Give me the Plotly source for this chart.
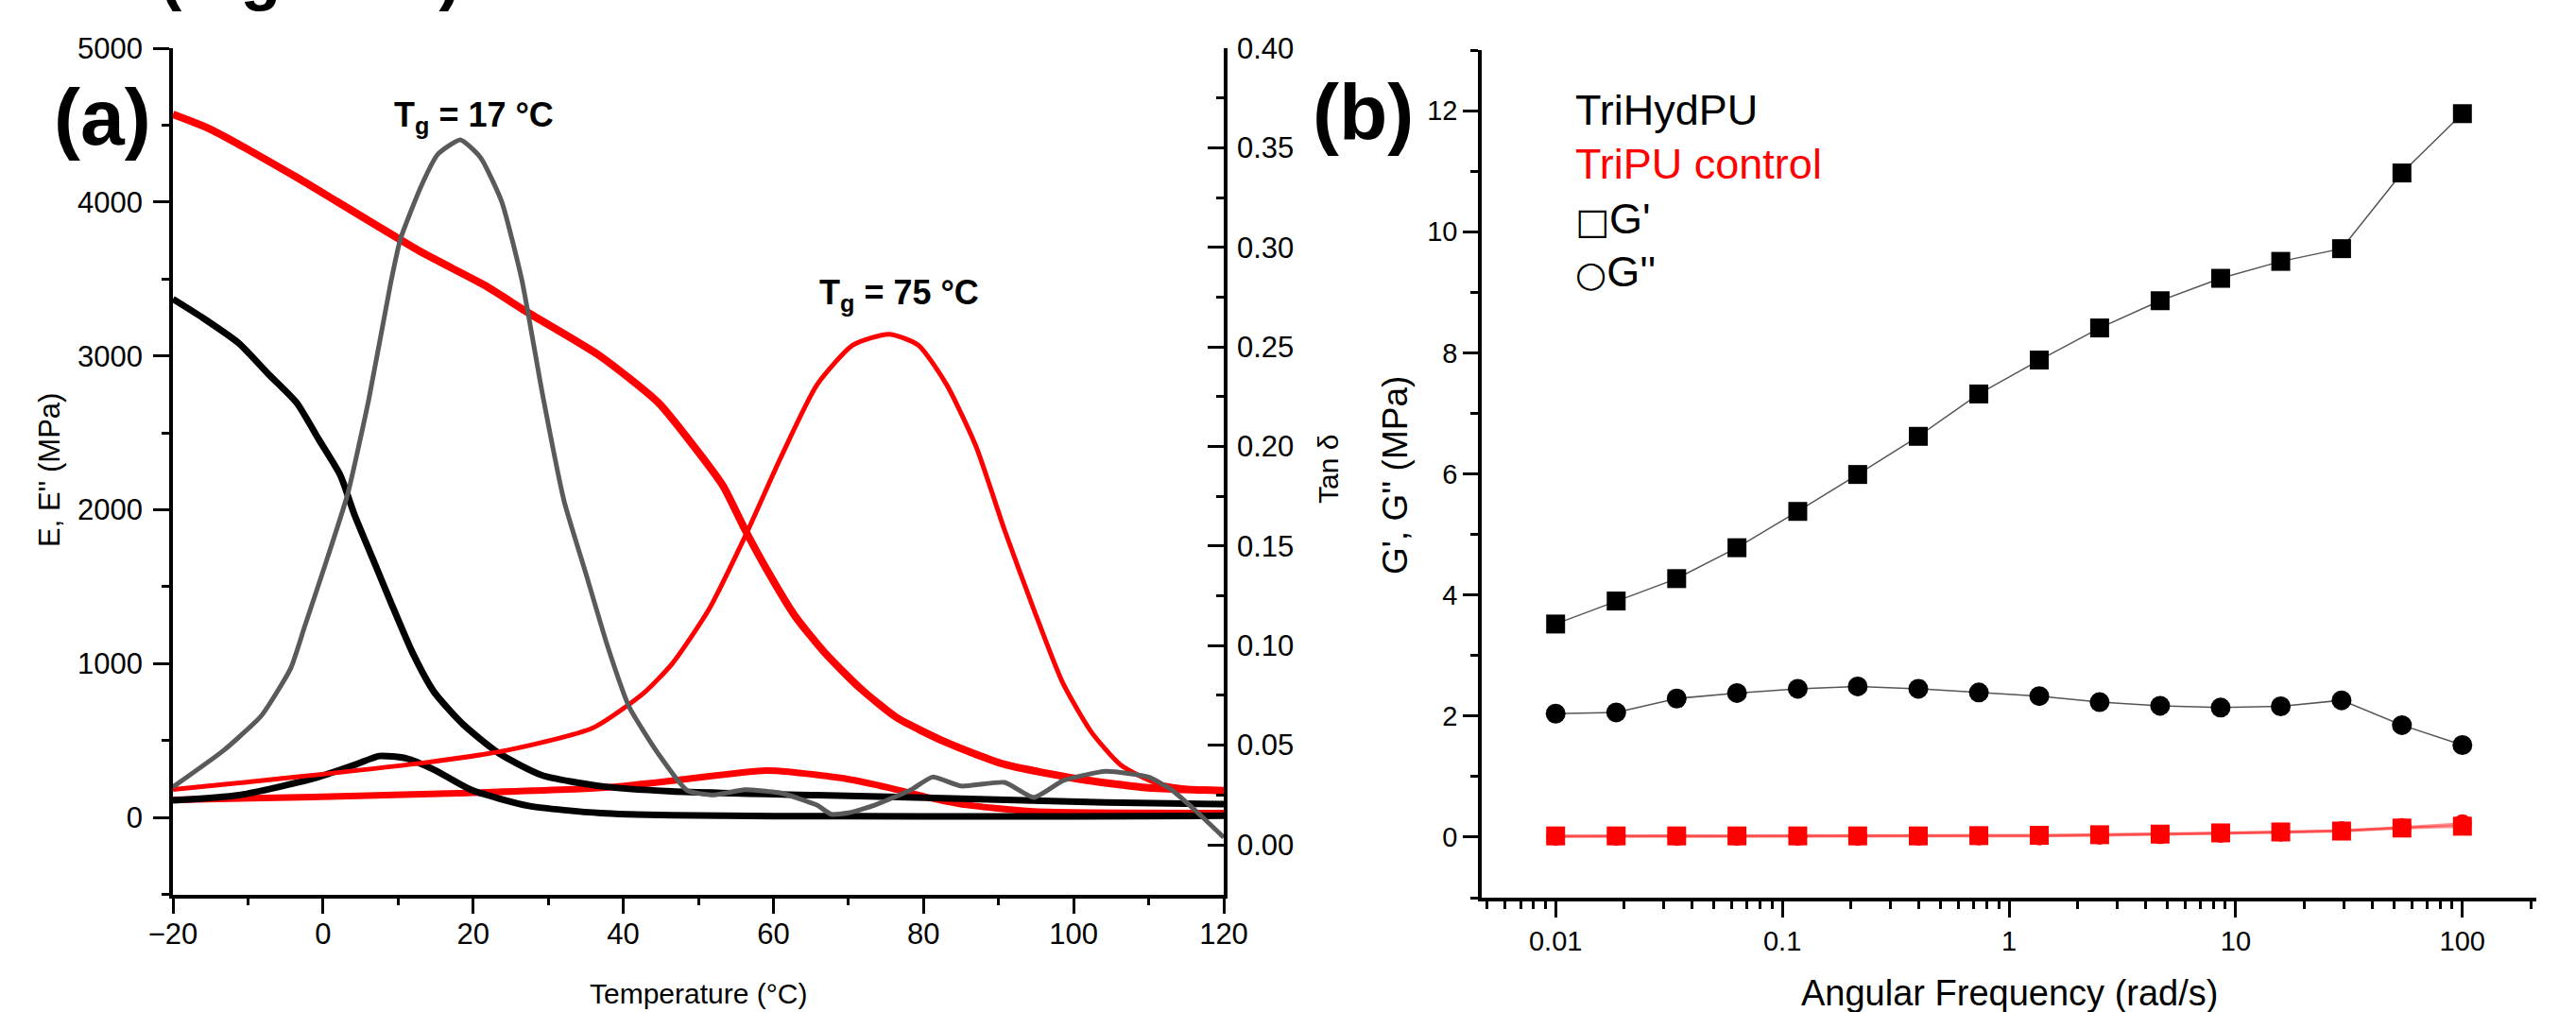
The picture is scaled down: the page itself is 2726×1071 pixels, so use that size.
import plotly.graph_objects as go

W, H = 2726, 1071
FONT = "Liberation Sans, Arial, sans-serif"

# ---------------- Panel (a) data: DMA ----------------
# TriHydPU storage modulus E' (MPa)
T_hyd_E1 = [-20, -16, -11.2, -7.3, -3.5, -0.6, 2.3, 4.2, 6.6, 9.0, 11.9, 14.8, 18.7, 23.5, 29.2, 36.9, 46.5, 65.8, 85, 104.3, 120]
E_hyd_E1 = [3370, 3247, 3082, 2883, 2695, 2460, 2225, 1967, 1685, 1403, 1074, 816, 604, 416, 275, 205, 170, 146, 123, 99, 87]
# TriHydPU loss modulus E'' (MPa)
T_hyd_E2 = [-20, -11.2, -1.4, 4.4, 7.5, 11.1, 14.8, 19.7, 27.4, 37, 46.5, 60, 80, 100, 120]
E_hyd_E2 = [112, 146, 252, 346, 400, 385, 311, 181, 76, 29, 15, 10, 8, 8, 12]
# TriPU control storage modulus E' (MPa)
T_pu_E1 = [-20, -15, -3.7, 1.9, 13.1, 21.5, 27.3, 36.9, 44.7, 49.4, 53.3, 56.2, 59.1, 62.9, 66.8, 71.6, 76.4, 83.1, 90.8, 100.5, 110, 120]
E_pu_E1 = [4570, 4473, 4166, 4002, 3675, 3460, 3282, 3000, 2695, 2413, 2155, 1873, 1614, 1309, 1074, 839, 651, 487, 346, 252, 193, 175]
# TriPU control loss modulus E'' (MPa)
T_pu_E2 = [-20, -1.4, 17.9, 37, 46.5, 56.2, 59, 62, 69.7, 75.5, 80.3, 85, 94.7, 120]
E_pu_E2 = [115, 134, 158, 193, 240, 295, 305, 298, 252, 193, 134, 87, 40, 30]
# Tan delta, TriHydPU (grey)
T_hyd_tan = [-20, -13.2, -8.2, -4.3, -2.5, 0.4, 3.3, 6.1, 9.0, 10.3, 13.1, 15.3, 18.3, 21, 23.8, 26.5,
             29.2, 32.1, 35, 37.9, 40.8, 44.7, 48.5, 52, 56.2, 61, 65.8, 67.7, 70, 73.5, 78.3, 81.2, 85, 90.8, 94.7,
             98.6, 104.3, 110, 113, 116, 120]
tan_hyd = [0.029, 0.0475, 0.0649, 0.0887, 0.109, 0.1419, 0.1764, 0.2237, 0.2818, 0.304, 0.331, 0.3468,
           0.354, 0.345, 0.323, 0.2834, 0.227, 0.1728, 0.1364, 0.0998, 0.0691, 0.0455, 0.0273, 0.025, 0.0276, 0.026,
           0.0199, 0.0153, 0.016, 0.0199, 0.0275, 0.034, 0.0295, 0.0313, 0.0237, 0.0322, 0.0369, 0.034, 0.0277,
           0.018, 0.0037]
# Tan delta, TriPU control (red)
T_pu_tan = [-20, -3.6, 13.3, 24.6, 35.9, 42.7, 46.6, 51.4, 56.2, 61, 65.8, 70.6, 75.4, 79.3, 83.1, 87, 90.8, 94.7,
            98.5, 102.4, 106.3, 111.1, 120]
tan_pu = [0.0277, 0.034, 0.0411, 0.0475, 0.0586, 0.0761, 0.0913, 0.1181, 0.1546, 0.1946, 0.2309, 0.2509, 0.2564,
          0.2509, 0.2309, 0.2, 0.158, 0.1181, 0.0817, 0.0564, 0.04, 0.0309, 0.0263]

# ---------------- Panel (b) data: rheology ----------------
omega = [0.01, 0.0185, 0.0342, 0.0631, 0.117, 0.215, 0.398, 0.736, 1.36, 2.51, 4.64, 8.58, 15.8, 29.3, 54.1, 100]
G1_hyd = [3.52, 3.90, 4.27, 4.78, 5.38, 5.99, 6.62, 7.32, 7.88, 8.41, 8.86, 9.23, 9.51, 9.72, 10.97, 11.95]
G2_hyd = [2.04, 2.06, 2.29, 2.38, 2.45, 2.49, 2.45, 2.39, 2.33, 2.23, 2.17, 2.14, 2.16, 2.26, 1.85, 1.52]
G1_pu = [0.02, 0.02, 0.02, 0.02, 0.02, 0.02, 0.02, 0.025, 0.03, 0.04, 0.05, 0.07, 0.085, 0.1, 0.15, 0.18]
G2_pu = [0.01, 0.01, 0.01, 0.01, 0.01, 0.01, 0.015, 0.02, 0.02, 0.03, 0.04, 0.06, 0.08, 0.11, 0.16, 0.22]

a_xticks = [-20, 0, 20, 40, 60, 80, 100, 120]
b_xtickvals = [0.01, 0.1, 1, 10, 100]
b_xticktext = ["0.01", "0.1", "1", "10", "100"]


def fx(px):
    return px / W


def fy(py):
    return 1 - py / H


fig = go.Figure()

RED = "#ff0000"
GREY = "#5a5a5a"
SPL = dict(shape="spline", smoothing=0.6)

# panel (a) traces
fig.add_trace(go.Scatter(x=T_pu_E1, y=E_pu_E1, mode="lines", line=dict(color=RED, width=8, **SPL),
                         xaxis="x", yaxis="y", showlegend=False))
fig.add_trace(go.Scatter(x=T_pu_E2, y=E_pu_E2, mode="lines", line=dict(color=RED, width=7, **SPL),
                         xaxis="x", yaxis="y", showlegend=False))
fig.add_trace(go.Scatter(x=T_hyd_E1, y=E_hyd_E1, mode="lines", line=dict(color="black", width=7, **SPL),
                         xaxis="x", yaxis="y", showlegend=False))
fig.add_trace(go.Scatter(x=T_hyd_E2, y=E_hyd_E2, mode="lines", line=dict(color="black", width=7, **SPL),
                         xaxis="x", yaxis="y", showlegend=False))
fig.add_trace(go.Scatter(x=T_pu_tan, y=tan_pu, mode="lines", line=dict(color=RED, width=5, **SPL),
                         xaxis="x", yaxis="y2", showlegend=False))
fig.add_trace(go.Scatter(x=T_hyd_tan, y=tan_hyd, mode="lines", line=dict(color=GREY, width=5, shape="spline", smoothing=0.5),
                         xaxis="x", yaxis="y2", showlegend=False))

# panel (b) traces
fig.add_trace(go.Scatter(x=omega, y=G1_pu, mode="lines+markers",
                         line=dict(color="rgba(255,0,0,0.45)", width=3),
                         marker=dict(symbol="square", size=20, color=RED),
                         xaxis="x2", yaxis="y3", showlegend=False))
fig.add_trace(go.Scatter(x=omega, y=G2_pu, mode="lines+markers",
                         line=dict(color="rgba(255,0,0,0.45)", width=3),
                         marker=dict(symbol="circle", size=20, color=RED),
                         xaxis="x2", yaxis="y3", showlegend=False))
fig.add_trace(go.Scatter(x=omega, y=G1_hyd, mode="lines+markers",
                         line=dict(color="#555555", width=1.5),
                         marker=dict(symbol="square", size=20, color="black"),
                         xaxis="x2", yaxis="y3", showlegend=False))
fig.add_trace(go.Scatter(x=omega, y=G2_hyd, mode="lines+markers",
                         line=dict(color="#555555", width=1.5),
                         marker=dict(symbol="circle", size=21, color="black"),
                         xaxis="x2", yaxis="y3", showlegend=False))

LW = 3.5
TW = 3
common = dict(showline=True, linecolor="black", linewidth=LW, showgrid=False, zeroline=False,
              tickcolor="black", tickwidth=TW, ticklen=17, automargin=False)
tickf = dict(family=FONT, size=31, color="black")
tickf_b = dict(family=FONT, size=29, color="black")

a_dom_x = [fx(183), fx(1295)]
a_dom_y = [fy(946.7), fy(51)]
b_dom_x = [fx(1568), fx(2684)]
b_dom_y = [fy(950), fy(53)]

minor_log = [m * 10 ** e for e in range(-3, 3) for m in range(2, 10)]

fig.update_layout(
    template="none",
    width=W, height=H, autosize=False,
    margin=dict(l=0, r=0, t=0, b=0, pad=0),
    paper_bgcolor="white", plot_bgcolor="rgba(0,0,0,0)",
    showlegend=False,
    font=dict(family=FONT, color="black"),
    xaxis=dict(domain=a_dom_x, anchor="y", range=[-20, 120], tickmode="array", tickvals=a_xticks,
               ticks="outside", tickfont=tickf, ticklabelstandoff=-6,
               minor=dict(dtick=10, tick0=0, ticks="outside", ticklen=8, tickwidth=TW, tickcolor="black"),
               **common),
    yaxis=dict(domain=a_dom_y, anchor="x", range=[-500, 5000], dtick=1000, tick0=0,
               ticks="outside", tickfont=tickf, ticklabelstandoff=5,
               minor=dict(dtick=500, tick0=0, ticks="outside", ticklen=8, tickwidth=TW, tickcolor="black"),
               **common),
    yaxis2=dict(domain=a_dom_y, anchor="x", overlaying="y", side="right", range=[-0.025, 0.40],
                dtick=0.05, tick0=0, tickformat=".2f", ticks="inside", tickfont=tickf, ticklabelstandoff=4,
                minor=dict(dtick=0.025, tick0=0, ticks="inside", ticklen=8, tickwidth=TW, tickcolor="black"),
                **common),
    xaxis3=dict(domain=a_dom_x, anchor="y", overlaying="x", side="top", range=[0, 10], dtick=2, tick0=0,
                ticks="inside", showticklabels=False,
                minor=dict(dtick=1, tick0=0, ticks="inside", ticklen=8, tickwidth=TW, tickcolor="black"),
                **common),
    xaxis2=dict(domain=b_dom_x, anchor="y3", type="log", range=[-2.326, 2.326],
                tickmode="array", tickvals=b_xtickvals, ticktext=b_xticktext,
                ticks="outside", tickfont=tickf_b, ticklabelstandoff=0,
                minor=dict(tickmode="array", tickvals=minor_log, ticks="outside", ticklen=8, tickwidth=TW,
                           tickcolor="black"),
                **common),
    yaxis3=dict(domain=b_dom_y, anchor="x2", range=[-1, 13], dtick=2, tick0=0,
                ticks="outside", tickfont=tickf_b, ticklabelstandoff=0, ticklen=16,
                minor=dict(dtick=1, tick0=1, ticks="outside", ticklen=8, tickwidth=TW, tickcolor="black"),
                **{k: v for k, v in common.items() if k != "ticklen"}),
    xaxis4=dict(domain=b_dom_x, anchor="y3", overlaying="x2", side="top", range=[0, 10], dtick=2, tick0=0,
                ticks="inside", showticklabels=False,
                minor=dict(dtick=1, tick0=0, ticks="inside", ticklen=8, tickwidth=TW, tickcolor="black"),
                **common),
    yaxis4=dict(domain=b_dom_y, anchor="x2", overlaying="y3", side="right", range=[0, 10], dtick=2, tick0=0,
                ticks="inside", showticklabels=False,
                minor=dict(dtick=1, tick0=0, ticks="inside", ticklen=8, tickwidth=TW, tickcolor="black"),
                **common),
)


def ann(text, x, y, size, color="black", xanchor="center", yanchor="middle", angle=0):
    fig.add_annotation(text=text, x=fx(x), y=fy(y), xref="paper", yref="paper", xanchor=xanchor,
                       yanchor=yanchor, textangle=angle, showarrow=False, borderpad=0,
                       font=dict(family=FONT, size=size, color=color))


GLYPH = "<span style='font-family:DejaVu Sans;font-size:38px'>%s</span>"

ann("<b>(Figure 6)</b>", 168, 13, 70, xanchor="left", yanchor="bottom")
ann("<b>(a)</b>", 109, 124, 84)
ann("<b>(b)</b>", 1442, 119, 84)
ann("<b>T<sub>g</sub> = 17 °C</b>", 501, 124, 36)
ann("<b>T<sub>g</sub> = 75 °C</b>", 951, 312, 36)
ann("E, E'' (MPa)", 52, 498, 31, angle=-90)
ann("Tan δ", 1405, 497, 30, angle=-90)
ann("Temperature (°C)", 739, 1051, 30)
ann("G', G'' (MPa)", 1476, 503, 37, angle=-90)
ann("Angular Frequency (rad/s)", 2126, 1051, 38)
ann("TriHydPU", 1666, 116, 45, xanchor="left")
ann("TriPU control", 1666, 174, 45, color=RED, xanchor="left")
ann(GLYPH % "□" + "G'", 1666, 231, 45, xanchor="left")
ann(GLYPH % "○" + "G''", 1666, 288, 45, xanchor="left")

fig.write_html("out.html", config={"displayModeBar": False},
               post_script="document.body.style.margin='0px';document.body.style.overflow='hidden';")
